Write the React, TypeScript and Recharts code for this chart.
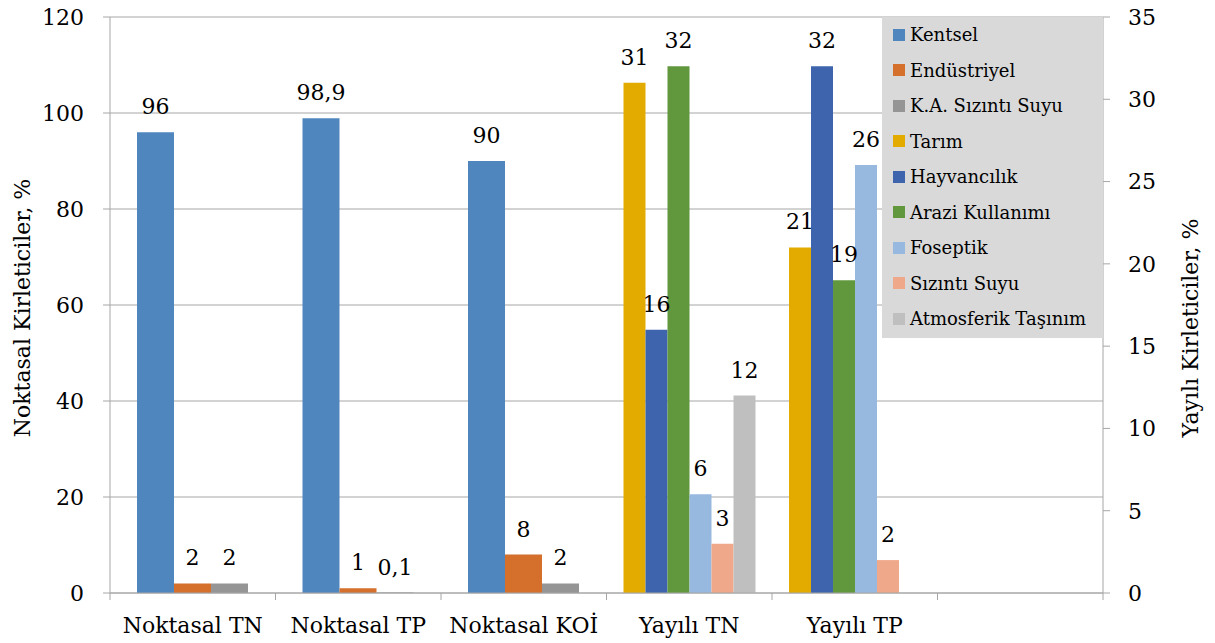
import React from 'react'
import { BarChart, Bar, XAxis, YAxis, CartesianGrid, Legend, LabelList } from 'recharts'

const categories = ['Noktasal TN', 'Noktasal TP', 'Noktasal KOİ', 'Yayılı TN', 'Yayılı TP', '']

// noktasal (left axis)
const kentsel = [96, 98.9, 90, null, null, null]
const endustriyel = [2, 1, 8, null, null, null]
const kaSizintiSuyu = [2, 0.1, 2, null, null, null]

// yayili (right axis)
const tarim = [null, null, null, 31, 21, null]
const hayvancilik = [null, null, null, 16, 32, null]
const araziKullanimi = [null, null, null, 32, 19, null]
const foseptik = [null, null, null, 6, 26, null]
const sizintiSuyu = [null, null, null, 3, 2, null]
const atmosferik = [null, null, null, 12, null, null]

const leftTicks = [0, 20, 40, 60, 80, 100, 120]
const rightTicks = [0, 5, 10, 15, 20, 25, 30, 35]

const FONT = '"DejaVu Serif", serif'
const AXIS = '#A6A6A6'
const FS = 22

const series = [
  { key: 'kentsel', name: 'Kentsel', values: kentsel, color: '#4F86BE', side: 'left' },
  { key: 'endustriyel', name: 'Endüstriyel', values: endustriyel, color: '#D46F2C', side: 'left' },
  { key: 'kaSizinti', name: 'K.A. Sızıntı Suyu', values: kaSizintiSuyu, color: '#959595', side: 'left' },
  { key: 'tarim', name: 'Tarım', values: tarim, color: '#E3AA00', side: 'right' },
  { key: 'hayvancilik', name: 'Hayvancılık', values: hayvancilik, color: '#3D64AD', side: 'right' },
  { key: 'arazi', name: 'Arazi Kullanımı', values: araziKullanimi, color: '#61973D', side: 'right' },
  { key: 'foseptik', name: 'Foseptik', values: foseptik, color: '#98B9DF', side: 'right' },
  { key: 'sizinti', name: 'Sızıntı Suyu', values: sizintiSuyu, color: '#F0A88A', side: 'right' },
  { key: 'atmosferik', name: 'Atmosferik Taşınım', values: atmosferik, color: '#BFBFBF', side: 'right' },
]

const data = categories.map((name, i) => {
  const row: any = { name }
  series.forEach(s => { row[s.key] = s.values[i] })
  return row
})

const fmt = (v: number) => String(v).replace('.', ',')

const renderLabel = (props: any) => {
  const { x, y, width, value } = props
  if (value === null || value === undefined) return null
  return (
    <text x={x + width / 2} y={y - 18} textAnchor="middle" fontSize={FS} fontFamily={FONT} fill="#000">
      {fmt(value)}
    </text>
  )
}

const CategoryTick = (props: any) => {
  const { x, y, payload, index } = props
  const half = payload && typeof payload.offset === 'number' && payload.offset > 0
    ? payload.offset
    : props.width / categories.length / 2
  return (
    <g>
      <line x1={x - half} x2={x - half} y1={y} y2={y + 7} stroke={AXIS} />
      {index === categories.length - 1 && (
        <line x1={x + half} x2={x + half} y1={y} y2={y + 7} stroke={AXIS} />
      )}
      <text x={x} y={y + 40} textAnchor="middle" fontSize={FS} fontFamily={FONT} fill="#000">
        {payload.value}
      </text>
    </g>
  )
}

const LegendBox = () => (
  <div style={{ width: 221, height: 321, background: '#D9D9D9', fontFamily: FONT, fontSize: 18, color: '#000' }}>
    {series.map(s => (
      <div key={s.key} style={{ height: 35.5, display: 'flex', alignItems: 'center', paddingLeft: 11, whiteSpace: 'nowrap' }}>
        <span style={{ width: 12, height: 12, background: s.color, marginRight: 5, flex: 'none' }} />
        {s.name}
      </div>
    ))}
  </div>
)

export default function App() {
  return (
    <div style={{ position: 'absolute', left: 0, top: 0, width: 1215, height: 643, background: '#fff' }}>
      <BarChart
        width={1215}
        height={643}
        data={data}
        margin={{ top: 17, right: 0, bottom: 0, left: 0 }}
        barGap={0}
        style={{ fontFamily: FONT }}
      >
        <CartesianGrid xAxisId="xn" yAxisId="left" vertical={false} stroke={AXIS} />
        <XAxis
          xAxisId="xn"
          dataKey="name"
          interval={0}
          height={50}
          tickLine={false}
          tickSize={0}
          tickMargin={0}
          axisLine={{ stroke: AXIS }}
          tick={<CategoryTick />}
        />
        <XAxis xAxisId="xy" dataKey="name" hide />
        <YAxis
          yAxisId="left"
          orientation="left"
          width={110}
          domain={[0, 120]}
          ticks={leftTicks}
          interval={0}
          tickSize={7}
          tickMargin={19}
          axisLine={{ stroke: AXIS }}
          tickLine={{ stroke: AXIS }}
          tick={{ fill: '#000', fontSize: FS, fontFamily: FONT }}
          label={{ value: 'Noktasal Kirleticiler, %', angle: -90, position: 'center', dx: -33, dy: 3, style: { fill: '#000', fontSize: FS, fontFamily: FONT } }}
        />
        <YAxis
          yAxisId="right"
          orientation="right"
          width={112}
          domain={[0, 35]}
          ticks={rightTicks}
          interval={0}
          tickSize={7}
          tickMargin={18}
          axisLine={{ stroke: AXIS }}
          tickLine={{ stroke: AXIS }}
          tick={{ fill: '#000', fontSize: FS, fontFamily: FONT }}
          label={{ value: 'Yayılı Kirleticiler, %', angle: -90, position: 'center', dx: 31, dy: 23, style: { fill: '#000', fontSize: FS, fontFamily: FONT } }}
        />
        <Legend
          layout="vertical"
          align="center"
          verticalAlign="middle"
          wrapperStyle={{ left: 882, top: 17, width: 221, height: 321 }}
          content={<LegendBox />}
        />
        {series.map(s => (
          <Bar
            key={s.key}
            dataKey={s.key}
            name={s.name}
            fill={s.color}
            xAxisId={s.side === 'left' ? 'xn' : 'xy'}
            yAxisId={s.side}
            barSize={s.side === 'left' ? 37 : 22}
            isAnimationActive={false}
          >
            <LabelList dataKey={s.key} content={renderLabel} />
          </Bar>
        ))}
      </BarChart>
    </div>
  )
}
